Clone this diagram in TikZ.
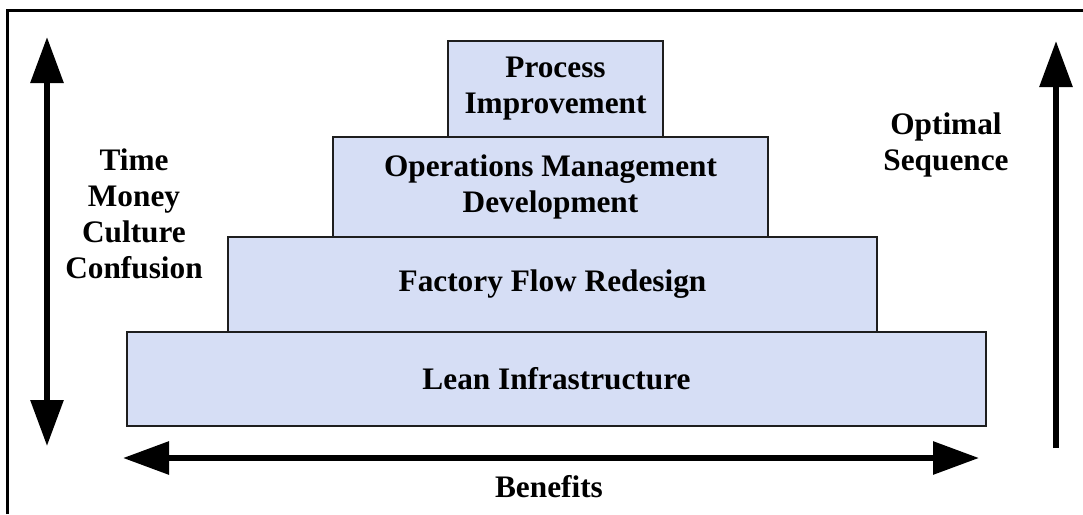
\documentclass[tikz,border=0pt]{standalone}
\usepackage{fontspec}
\setmainfont{Liberation Serif}
\usetikzlibrary{arrows.meta}
\definecolor{boxfill}{RGB}{214,222,245}
\definecolor{boxline}{RGB}{30,30,30}
\tikzset{
  layer/.style={draw=boxline, line width=1.6pt, fill=boxfill, inner sep=0pt, align=center,
    font=\fontsize{31.3}{36}\selectfont\bfseries},
  lbl/.style={inner sep=0pt, align=center, font=\fontsize{31.3}{36}\selectfont\bfseries},
  bigarrow/.style={line width=6pt, draw=black},
  tip/.tip={Triangle[length=46pt, width=32pt]}
}
\begin{document}
\begin{tikzpicture}[x=1pt, y=-1pt]
\useasboundingbox (0,0) rectangle (1083,514);
% frame
\draw[line width=3pt] (7,514) -- (7,10) -- (1083,10);
% layers
\node[layer, minimum width=859pt, minimum height=94pt] (li) at (556.5,379) {Lean Infrastructure};
\node[layer, minimum width=649pt, minimum height=95pt] (ffr) at (552.5,284.5) {Factory Flow Redesign};
\node[layer, minimum width=435pt, minimum height=100pt] (omd) at (550.5,187) {Operations Management\\Development};
\node[layer, minimum width=215pt, minimum height=96pt] (pi) at (555.5,89) {Process\\Improvement};
% labels
\node[lbl] (tmcc) at (134,214) {Time\\Money\\Culture\\Confusion};
\node[lbl] (os) at (946,145) {Optimal\\Sequence};
\node[lbl] (ben) at (549,487) {Benefits};
% arrows
\coordinate (lt) at (47,37);
\coordinate (lb) at (47,446);
\coordinate (bl) at (123,458);
\coordinate (br) at (979,458);
\coordinate (rb) at (1056,448);
\coordinate (rt) at (1056,41);
\draw[bigarrow, {tip}-{tip}] (lt) -- (lb);
\draw[bigarrow, {tip}-{tip}] (bl) -- (br);
\draw[bigarrow, -{tip}] (rb) -- (rt);
\end{tikzpicture}
\end{document}
